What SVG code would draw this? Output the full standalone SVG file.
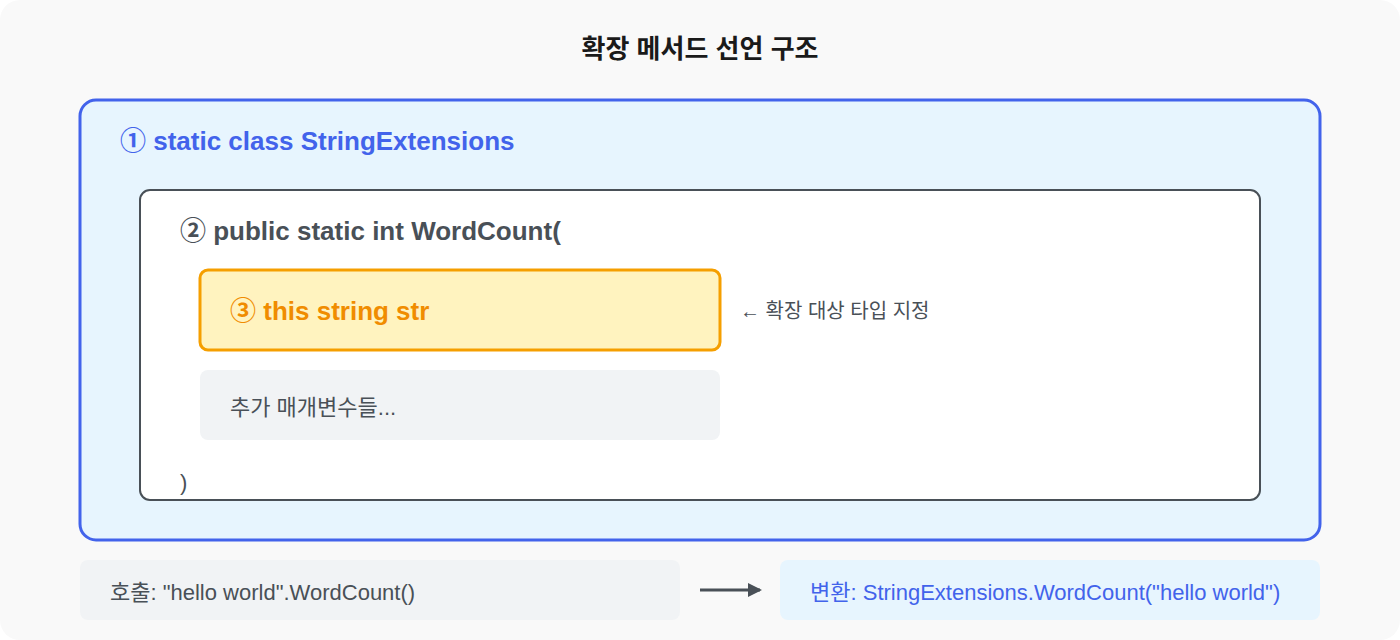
<svg xmlns="http://www.w3.org/2000/svg" width="1400" height="640" viewBox="0 0 1400 640">
<style>
text{font-family:"Liberation Sans","Noto Sans CJK KR",sans-serif}
.b{font-weight:bold;font-size:26px}
.r{font-size:22px;fill:#495057}
</style>
<defs>
<marker id="ah" markerWidth="14" markerHeight="14" refX="12" refY="7" orient="auto" markerUnits="userSpaceOnUse"><path d="M0,0 L14,7 L0,14 Z" fill="#495057"/></marker>
</defs>
<rect x="0" y="0" width="1400" height="640" rx="20" fill="#f9f9f9"/>
<text x="700" y="58" text-anchor="middle" font-size="26" font-weight="bold" fill="#1a1a1a">확장 메서드 선언 구조</text>
<g id="class-box">
<rect x="80" y="100" width="1240" height="440" rx="16" fill="#e7f5fe" stroke="#4263eb" stroke-width="3"/>
<text x="120" y="150" class="b" fill="#4263eb">① static class StringExtensions</text>
</g>
<g id="method-box">
<rect x="140" y="190" width="1120" height="310" rx="10" fill="#ffffff" stroke="#495057" stroke-width="2"/>
<text x="180" y="240" class="b" fill="#495057">② public static int WordCount(</text>
<text x="180" y="490" class="r">)</text>
</g>
<g id="this-param">
<rect x="200" y="270" width="520" height="80" rx="8" fill="#fff3bf" stroke="#f59f00" stroke-width="3"/>
<text x="230" y="320" class="b" fill="#f08c00">③ this string str</text>
</g>
<text x="740" y="318" font-size="20" fill="#495057">← 확장 대상 타입 지정</text>
<g id="extra-params">
<rect x="200" y="370" width="520" height="70" rx="8" fill="#f1f3f5"/>
<text x="230" y="415" class="r">추가 매개변수들...</text>
</g>
<g id="call">
<rect x="80" y="560" width="600" height="60" rx="8" fill="#f1f3f5"/>
<text x="110" y="600" class="r">호출: "hello world".WordCount()</text>
</g>
<g id="result">
<rect x="780" y="560" width="540" height="60" rx="8" fill="#e7f5fe"/>
<text x="810" y="600" font-size="22" fill="#4263eb">변환: StringExtensions.WordCount("hello world")</text>
</g>
<g id="connectors">
<line x1="700" y1="590" x2="760" y2="590" stroke="#495057" stroke-width="3" marker-end="url(#ah)"/>
</g>
</svg>
